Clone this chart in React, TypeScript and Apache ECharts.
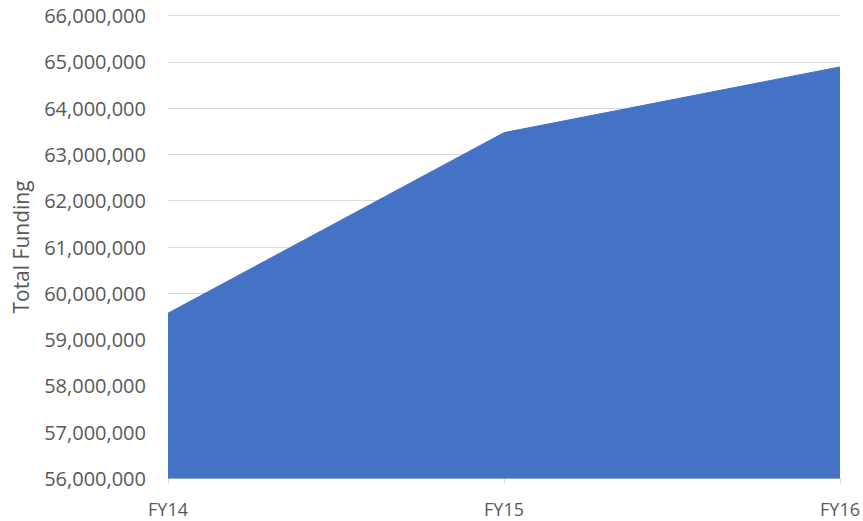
import React, { useEffect, useRef } from "react";
import * as echarts from "echarts";

const categories = ["FY14", "FY15", "FY16"];
const totalFunding = [59570000, 63470000, 64890000];
const yMin = 56000000;
const yMax = 66000000;
const yStep = 1000000;

const TEXT = "#595959";
const GRID = "#d9d9d9";
const FILL = "#4472C4";
const FONT = "'Open Sans', 'Noto Sans', sans-serif";

export default function App() {
  const ref = useRef<HTMLDivElement>(null);

  useEffect(() => {
    if (!ref.current) return;
    const chart = echarts.init(ref.current, null, { renderer: "svg" });
    chart.setOption({
      animation: false,
      backgroundColor: "#ffffff",
      grid: {
        left: 168,
        right: 23,
        top: 15.5,
        bottom: 42.5,
        containLabel: false,
        outerBoundsMode: "none",
      },
      xAxis: {
        type: "category",
        data: categories,
        boundaryGap: false,
        axisLine: { show: true, lineStyle: { color: GRID, width: 1 } },
        axisTick: { show: true, alignWithLabel: true, length: 5, lineStyle: { color: GRID } },
        axisLabel: { color: TEXT, fontFamily: FONT, fontSize: 18, margin: 21 },
        splitLine: { show: false },
      },
      yAxis: {
        type: "value",
        min: yMin,
        max: yMax,
        interval: yStep,
        name: "Total Funding",
        nameLocation: "middle",
        nameGap: 137,
        nameMoveOverlap: false,
        nameTextStyle: { color: TEXT, fontFamily: FONT, fontSize: 21 },
        axisLine: { show: false },
        axisTick: { show: false },
        axisLabel: {
          color: TEXT,
          fontFamily: FONT,
          fontSize: 20,
          margin: 22,
          formatter: (v: number) => v.toLocaleString("en-US"),
        },
        splitLine: { show: true, lineStyle: { color: GRID, width: 1 } },
      },
      series: [
        {
          type: "line",
          data: totalFunding,
          symbol: "none",
          lineStyle: { color: FILL, width: 1 },
          areaStyle: { color: FILL, opacity: 1, origin: "start" },
          itemStyle: { color: FILL },
        },
      ],
    });
    return () => chart.dispose();
  }, []);

  return (
    <div
      ref={ref}
      style={{ position: "absolute", left: 0, top: 0, width: 863, height: 521 }}
    />
  );
}
